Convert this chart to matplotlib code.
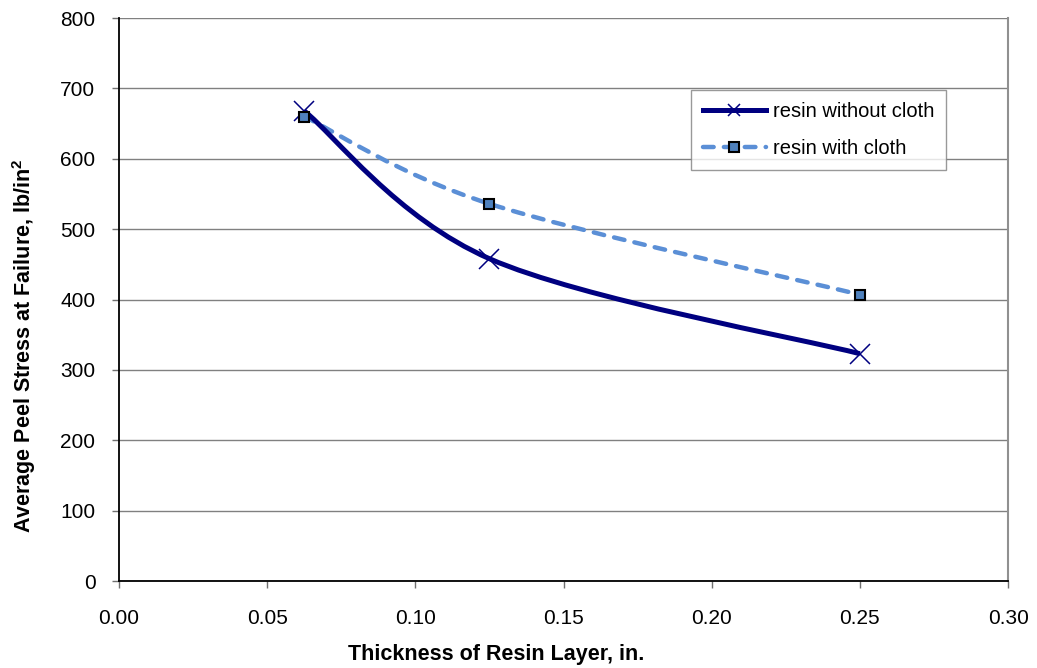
import numpy as np
import matplotlib
matplotlib.use("Agg")
import matplotlib.pyplot as plt
from matplotlib.path import Path
from matplotlib.patches import PathPatch
from matplotlib.lines import Line2D

plt.rcParams['font.family'] = ['Liberation Sans', 'DejaVu Sans']

# thickness of resin layer (in.) and average peel stress (lb/in^2)
thickness = [0.0625, 0.125, 0.25]
stress_no_cloth = [668, 458, 323]
stress_cloth = [660, 536, 407]

xticks = [0.00, 0.05, 0.10, 0.15, 0.20, 0.25, 0.30]
yticks = [0, 100, 200, 300, 400, 500, 600, 700, 800]

navy = '#000080'
light = '#5B8FD6'
sq_face = '#4F81BD'
dash = (0, (2.4, 2.3))


def smooth_path(ax, xs, ys, tension=1/6):
    # Catmull-Rom style bezier through the points, computed in axes units
    to_ax = ax.transData + ax.transAxes.inverted()
    pts = to_ax.transform(np.column_stack([xs, ys]))
    n = len(pts)
    verts = [pts[0]]
    codes = [Path.MOVETO]
    for i in range(n - 1):
        p0 = pts[i - 1] if i > 0 else pts[i]
        p1 = pts[i]
        p2 = pts[i + 1]
        p3 = pts[i + 2] if i + 2 < n else pts[i + 1]
        c1 = p1 + (p2 - p0) * tension
        c2 = p2 - (p3 - p1) * tension
        verts += [c1, c2, p2]
        codes += [Path.CURVE4] * 3
    return Path(verts, codes)


fig = plt.figure(figsize=(10.37, 6.68), dpi=100)
ax = fig.add_axes([0.1148, 0.1302, 0.8573, 0.8428])
ax.set_xlim(0, 0.30)
ax.set_ylim(0, 800)
ax.set_xticks(xticks)
ax.set_yticks(yticks)
ax.set_xticklabels([f'{v:.2f}' for v in xticks])
ax.set_yticklabels([str(v) for v in yticks])
ax.tick_params(axis='both', labelsize=15, direction='out', length=5,
               width=1, color='#707070')
ax.tick_params(axis='x', pad=15)
ax.tick_params(axis='y', pad=12)
ax.grid(axis='y', color='#808080', linewidth=1)
ax.set_axisbelow(True)
ax.spines['top'].set_visible(False)
ax.spines['right'].set_color('#909090')
ax.spines['right'].set_linewidth(1.5)
ax.spines['left'].set_color('black')
ax.spines['left'].set_linewidth(1.3)
ax.spines['bottom'].set_color('black')
ax.spines['bottom'].set_linewidth(1.3)

fig.canvas.draw()

p1 = smooth_path(ax, thickness, stress_no_cloth)
ax.add_patch(PathPatch(p1, transform=ax.transAxes, facecolor='none',
                       edgecolor=navy, linewidth=3.6, zorder=3))
ax.plot(thickness, stress_no_cloth, linestyle='none', marker='x',
        markersize=14, markeredgewidth=1.1, color=navy, zorder=4)

p2 = smooth_path(ax, thickness, stress_cloth)
ax.add_patch(PathPatch(p2, transform=ax.transAxes, facecolor='none',
                       edgecolor=light, linewidth=3.2, linestyle=dash,
                       capstyle='round', zorder=2))
ax.plot(thickness, stress_cloth, linestyle='none', marker='s',
        markersize=7.5, markerfacecolor=sq_face, markeredgecolor='black',
        markeredgewidth=1.5, zorder=5)

ax.set_xlabel('Thickness of Resin Layer, in.', fontsize=15.5, fontweight='bold')
ax.xaxis.set_label_coords(0.4246, -0.111)
ax.set_ylabel('Average Peel Stress at Failure, lb/in$^\\mathregular{2}$',
              fontsize=15.5, fontweight='bold')
ax.yaxis.set_label_coords(-0.0914, 0.418)

handles = [
    Line2D([], [], color=navy, linewidth=3.6, marker='x', markersize=9,
           markeredgewidth=1.1),
    Line2D([], [], color=light, linewidth=3.2, linestyle=dash,
           dash_capstyle='round', marker='s', markersize=7.5,
           markerfacecolor=sq_face, markeredgecolor='black',
           markeredgewidth=1.5),
]
leg = ax.legend(handles, ['resin without cloth', 'resin with cloth'],
                loc='upper left', bbox_to_anchor=(691 / 1037, 1 - 90 / 668),
                bbox_transform=fig.transFigure, borderaxespad=0,
                fontsize=14.5, frameon=True, fancybox=False, edgecolor='#808080',
                handlelength=3.1, handletextpad=0.35, borderpad=0.6,
                labelspacing=0.9)
leg.get_frame().set_linewidth(1)

fig.savefig('out.png', dpi=100)
